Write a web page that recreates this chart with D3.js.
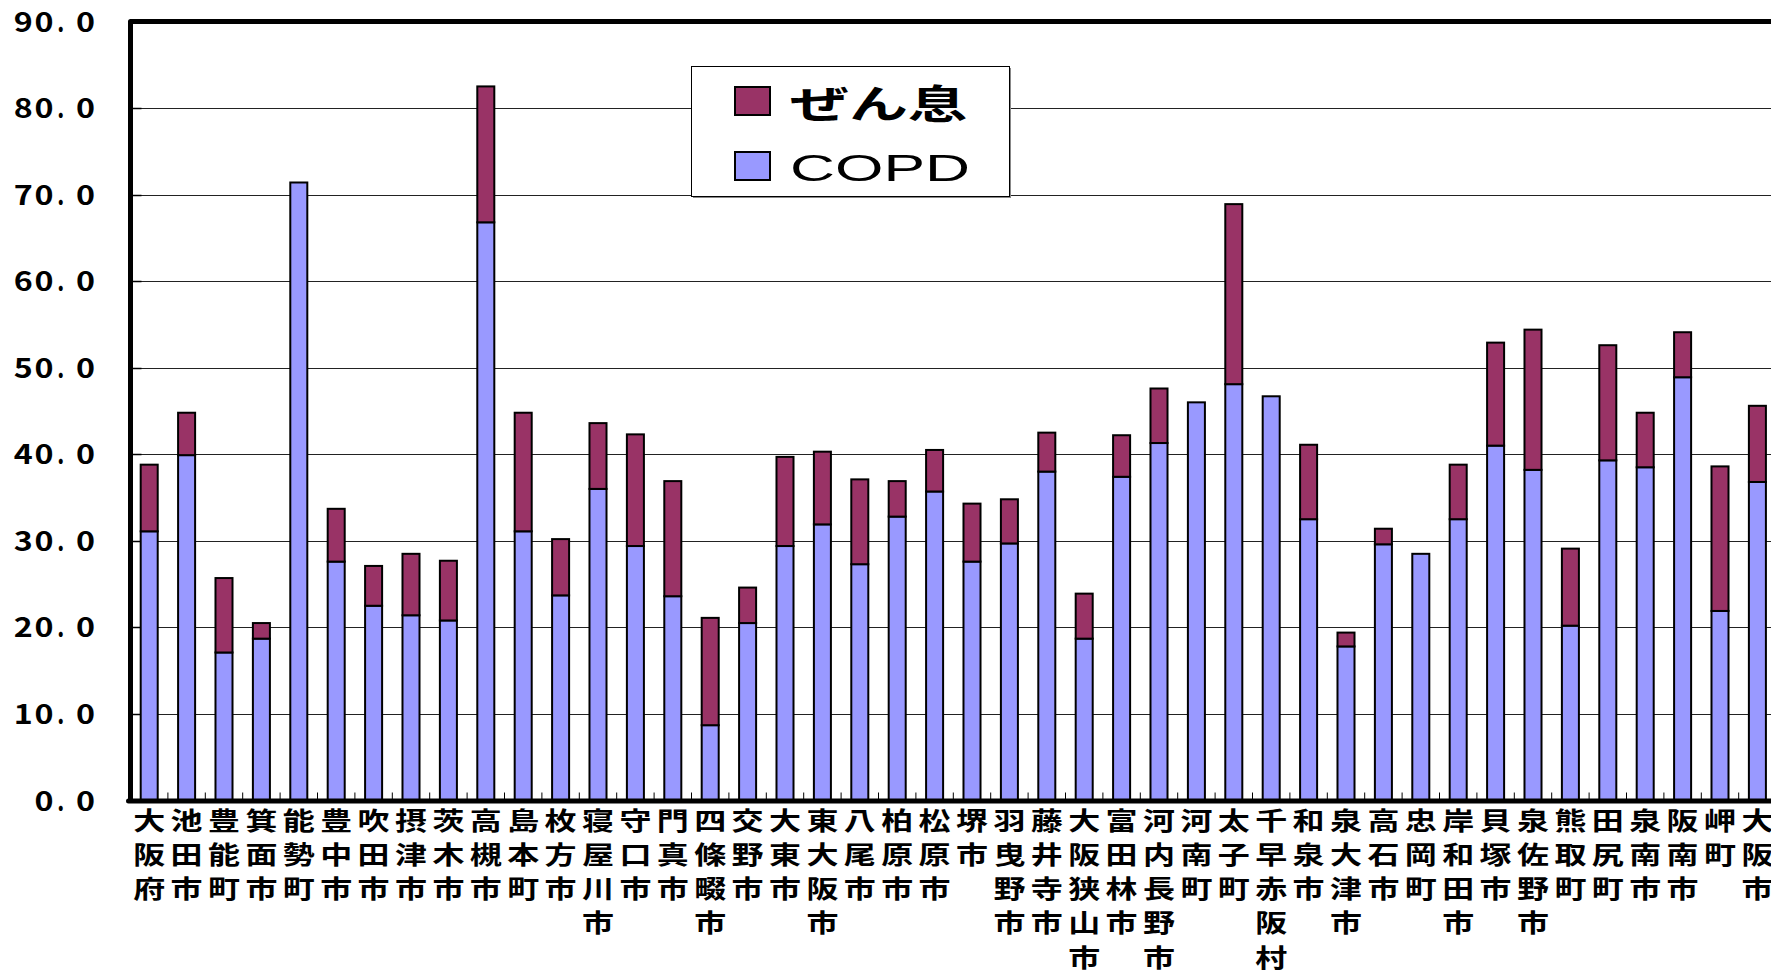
<!DOCTYPE html>
<html lang="ja">
<head>
<meta charset="utf-8">
<title>ぜん息・COPD</title>
<script src="https://cdn.jsdelivr.net/npm/d3@7"></script>
<style>
  html, body { margin: 0; padding: 0; background: #fff; overflow: hidden; }
  svg { display: block; }
</style>
</head>
<body>
<svg id="chart" width="1771" height="974"></svg>
<script>
// Municipalities (each label is stacked vertically, one character per row)
const categories = [
  "大阪府","池田市","豊能町","箕面市","能勢町","豊中市","吹田市","摂津市","茨木市","高槻市",
  "島本町","枚方市","寝屋川市","守口市","門真市","四條畷市","交野市","大東市","東大阪市","八尾市",
  "柏原市","松原市","堺市","羽曳野市","藤井寺市","大阪狭山市","富田林市","河内長野市","河南町","太子町",
  "千早赤阪村","和泉市","泉大津市","高石市","忠岡町","岸和田市","貝塚市","泉佐野市","熊取町","田尻町",
  "泉南市","阪南市","岬町","大阪市"
];

// COPD (lower segment)
const copdValues = [
  31.1, 39.9, 17.1, 18.7, 71.4, 27.6, 22.5, 21.4, 20.8, 66.8,
  31.1, 23.7, 36.0, 29.4, 23.6,  8.7, 20.5, 29.4, 31.9, 27.3,
  32.8, 35.7, 27.6, 29.7, 38.0, 18.7, 37.4, 41.3, 46.0, 48.1,
  46.7, 32.5, 17.8, 29.6, 28.5, 32.5, 41.0, 38.2, 20.2, 39.3,
  38.5, 48.9, 21.9, 36.8
];

// ぜん息 (upper segment)
const asthmaValues = [
   7.7,  4.9,  8.6,  1.8,  0.0,  6.1,  4.6,  7.1,  6.9, 15.7,
  13.7,  6.5,  7.6, 12.9, 13.3, 12.4,  4.1, 10.3,  8.4,  9.8,
   4.1,  4.8,  6.7,  5.1,  4.5,  5.2,  4.8,  6.3,  0.0, 20.8,
   0.0,  8.6,  1.6,  1.8,  0.0,  6.3, 11.9, 16.2,  8.9, 13.3,
   6.3,  5.2, 16.7,  8.8
];

const yTicks = [0, 10, 20, 30, 40, 50, 60, 70, 80, 90];

const seriesNames = ["COPD", "ぜん息"];
const seriesColors = { "COPD": "#9999FF", "ぜん息": "#993366" };

const svg = d3.select("#chart");
const W = 1771;
const plotLeft = 130.5, plotTop = 21.5, plotBottom = 800.5;
const step = 37.4;

const x = d3.scaleBand()
  .domain(categories)
  .range([plotLeft, plotLeft + step * categories.length])
  .paddingInner(0.545)
  .paddingOuter(0.2725);

const y = d3.scaleLinear().domain([0, 90]).range([plotBottom, plotTop]);

const rows = categories.map((c, i) => ({ name: c, "COPD": copdValues[i], "ぜん息": asthmaValues[i] }));
const stacked = d3.stack().keys(seriesNames)(rows);

// gridlines
svg.append("g")
  .selectAll("line")
  .data(yTicks.filter(d => d > 0 && d < 90))
  .join("line")
  .attr("x1", plotLeft).attr("x2", W)
  .attr("y1", d => Math.round(y(d)) + 0.5).attr("y2", d => Math.round(y(d)) + 0.5)
  .attr("stroke", "#222").attr("stroke-width", 1);

// y ticks pointing into the plot
svg.append("g")
  .selectAll("line")
  .data(yTicks.filter(d => d > 0 && d < 90))
  .join("line")
  .attr("x1", plotLeft).attr("x2", plotLeft + 11)
  .attr("y1", d => Math.round(y(d)) + 0.5).attr("y2", d => Math.round(y(d)) + 0.5)
  .attr("stroke", "#000").attr("stroke-width", 1.5);

// y tick labels: one character per fixed-width cell, right aligned
const cell = 20.8;
const yLabelG = svg.append("g")
  .attr("font-family", "'Noto Sans CJK JP', 'Noto Sans', sans-serif")
  .attr("font-weight", 700)
  .attr("font-size", 27)
  .attr("fill", "#000");
yTicks.forEach(d => {
  const s = d3.format(".1f")(d);
  const chars = Array.from(s);
  const x0 = 96 - chars.length * cell;
  const t = yLabelG.append("text").attr("y", y(d) + 10);
  chars.forEach((ch, k) => {
    const w = ch === "." ? 7 : 19;
    t.append("tspan")
      .attr("x", x0 + k * cell + (cell - w) / 2 + (ch === "." ? -4 : 0))
      .attr("textLength", w)
      .attr("lengthAdjust", "spacingAndGlyphs")
      .text(ch);
  });
});

// stacked bars
svg.append("g")
  .selectAll("g")
  .data(stacked)
  .join("g")
  .attr("fill", d => seriesColors[d.key])
  .selectAll("rect")
  .data(d => d.filter(p => p[1] - p[0] > 0))
  .join("rect")
  .attr("x", p => x(p.data.name))
  .attr("y", p => y(p[1]))
  .attr("width", x.bandwidth())
  .attr("height", p => y(p[0]) - y(p[1]))
  .attr("stroke", "#000")
  .attr("stroke-width", 2);

// x ticks between categories
svg.append("g")
  .selectAll("line")
  .data(d3.range(1, categories.length + 1))
  .join("line")
  .attr("x1", i => plotLeft + i * step).attr("x2", i => plotLeft + i * step)
  .attr("y1", plotBottom).attr("y2", plotBottom - 8)
  .attr("stroke", "#000").attr("stroke-width", 1);

// frame: left axis, top border, bottom axis
svg.append("path")
  .attr("d", `M${plotLeft},${plotBottom} L${plotLeft},${plotTop} L${W + 10},${plotTop}`)
  .attr("fill", "none").attr("stroke", "#000").attr("stroke-width", 5)
  .attr("stroke-linejoin", "round");
svg.append("line")
  .attr("x1", plotLeft - 2).attr("x2", W + 10)
  .attr("y1", plotBottom + 0.5).attr("y2", plotBottom + 0.5)
  .attr("stroke", "#000").attr("stroke-width", 5).attr("stroke-linecap", "round");

// category labels, one character per row
const labelG = svg.append("g")
  .attr("font-family", "'Noto Sans CJK JP', sans-serif")
  .attr("font-weight", 700)
  .attr("font-size", 25)
  .attr("fill", "#000");
categories.forEach(name => {
  const cx = x(name) + x.bandwidth() / 2;
  Array.from(name).forEach((ch, r) => {
    labelG.append("text")
      .attr("x", cx - 16)
      .attr("y", 820 + r * 34.3 + 9.5)
      .attr("textLength", 32)
      .attr("lengthAdjust", "spacingAndGlyphs")
      .text(ch);
  });
});

// legend
const legend = svg.append("g");
legend.append("rect")
  .attr("x", 693).attr("y", 68).attr("width", 318).attr("height", 130)
  .attr("fill", "#888");
legend.append("rect")
  .attr("x", 691.5).attr("y", 66.5).attr("width", 318).attr("height", 130)
  .attr("fill", "#fff").attr("stroke", "#000").attr("stroke-width", 1);

const legendItems = [
  { key: "ぜん息", sy: 87, ty: 104, len: 177, font: "'Noto Sans CJK JP', sans-serif", size: 39, weight: 700 },
  { key: "COPD", sy: 152, ty: 168, len: 180, font: "'Liberation Sans', Arial, sans-serif", size: 37, weight: 400 }
];
legendItems.forEach(it => {
  legend.append("rect")
    .attr("x", 735).attr("y", it.sy).attr("width", 35).attr("height", 28)
    .attr("fill", seriesColors[it.key]).attr("stroke", "#000").attr("stroke-width", 2);
  legend.append("text")
    .attr("x", 790).attr("y", it.ty + it.size * 0.36)
    .attr("textLength", it.len)
    .attr("lengthAdjust", "spacingAndGlyphs")
    .attr("font-family", it.font)
    .attr("font-weight", it.weight)
    .attr("font-size", it.size)
    .attr("fill", "#000")
    .text(it.key);
});
</script>
</body>
</html>
